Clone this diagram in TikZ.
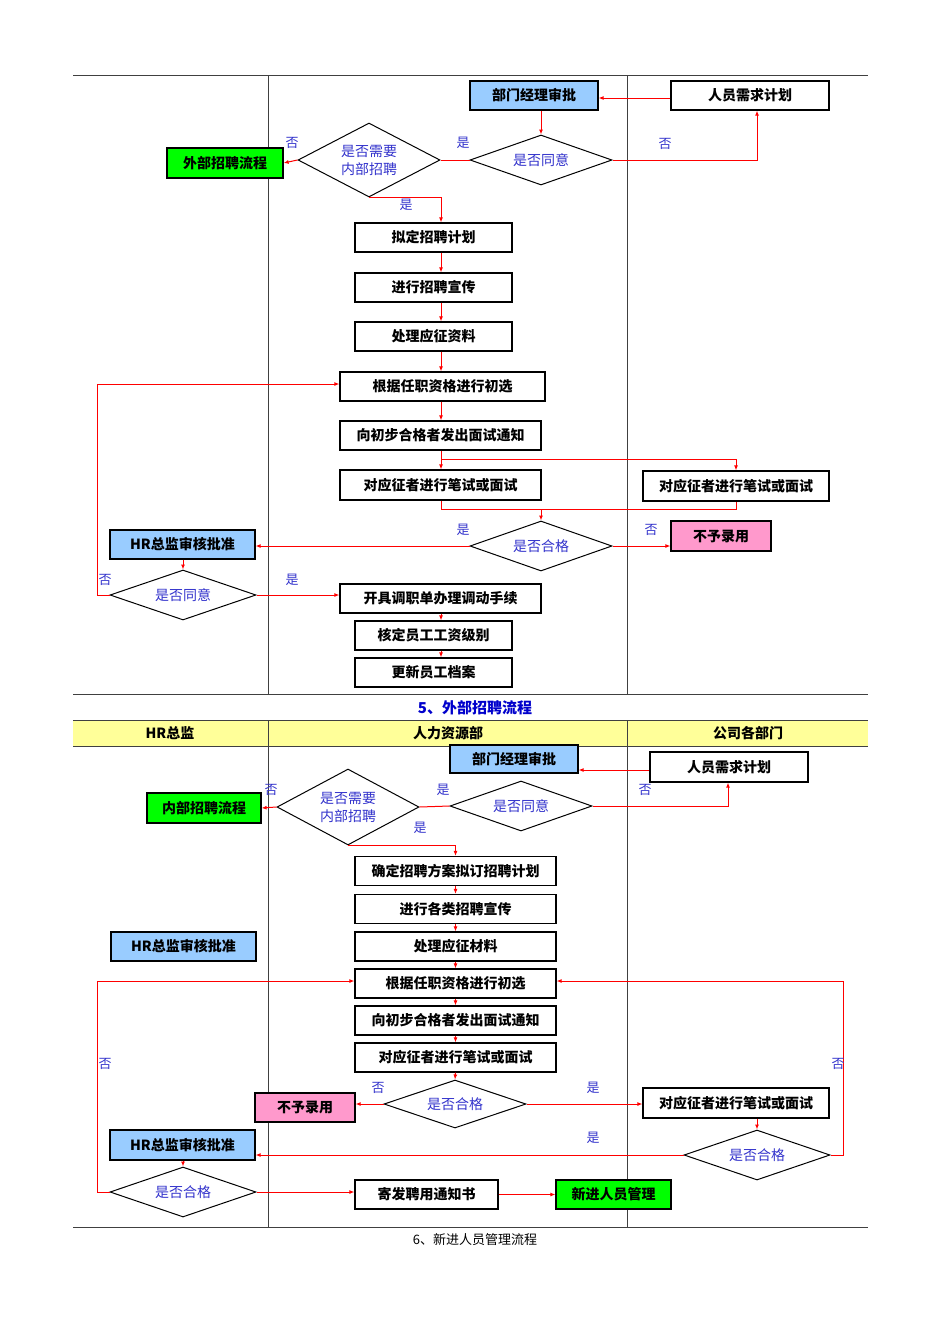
\documentclass[tikz,border=0pt]{standalone}
\usepackage{fontspec}
\setmainfont{Liberation Serif}
\newfontfamily\cjk{Noto Sans CJK SC}
\newfontfamily\cjks{Noto Sans CJK SC}
\usetikzlibrary{shapes.geometric,arrows.meta}
\definecolor{bfill}{HTML}{99CCFF}
\definecolor{gfill}{HTML}{00FF00}
\definecolor{pfill}{HTML}{FF99CC}
\definecolor{yfill}{HTML}{FFFF99}
\definecolor{lblue}{HTML}{3333CC}
\definecolor{tblue}{HTML}{0000CC}
\begin{document}
\begin{tikzpicture}[x=1pt,y=-1pt,
  box/.style={draw=black,line width=1.2pt,inner sep=0pt,font=\cjk\bfseries\fontsize{14}{16}\selectfont},
  dia/.style={draw=black,line width=1pt,diamond,inner sep=0pt},
  dtext/.style={text=lblue,font=\cjks\fontsize{14}{18}\selectfont,align=center},
  lab/.style={text=lblue,font=\cjks\fontsize{13}{15}\selectfont},
  arr/.style={draw=red,line width=1pt,-{Latex[length=5pt,width=4pt]}},
  ln/.style={draw=red,line width=1pt},
  grid/.style={draw=black!75,line width=0.8pt}]
\useasboundingbox (0,0) rectangle (950,1344);
\fill[white] (0,0) rectangle (950,1344);
% frame top section
\draw[grid] (73,75) -- (868,75);
\draw[grid] (268,75) -- (268,694);
\draw[grid] (627,75) -- (627,694);
\draw[grid] (73,694) -- (868,694);
\node[text=tblue,font=\cjk\bfseries\fontsize{15}{17}\selectfont] (t5) at (475,708) {5、外部招聘流程};
\fill[yfill] (73,720) rectangle (868,746);
\draw[grid] (73,720) -- (868,720);
\draw[grid] (73,746) -- (868,746);
\draw[grid] (268,720) -- (268,1227);
\draw[grid] (627,720) -- (627,1227);
\draw[grid] (73,1227) -- (868,1227);
\node[font=\cjk\bfseries\fontsize{14}{16}\selectfont] (h1) at (170,733) {HR总监};
\node[font=\cjk\bfseries\fontsize{14}{16}\selectfont] (h2) at (448,733) {人力资源部};
\node[font=\cjk\bfseries\fontsize{14}{16}\selectfont] (h3) at (748,733) {公司各部门};
\node[font=\cjks\fontsize{13}{15}\selectfont] (t6) at (475,1240) {6、新进人员管理流程};

% ---------- top section ----------
\node[box,fill=bfill,minimum width=128,minimum height=29] (bm1) at (534,95.5) {部门经理审批};
\node[box,minimum width=158,minimum height=29] (rq1) at (750,95.5) {人员需求计划};
\node[box,fill=gfill,minimum width=116,minimum height=30] (ext) at (225,163) {外部招聘流程};
\node[dia,minimum width=142,minimum height=74] (d1) at (369,160) {};
\node[dtext] at (d1) {是否需要\\内部招聘};
\node[dia,minimum width=142,minimum height=50] (d2) at (541,160) {};
\node[dtext] at (d2) {是否同意};
\node[box,minimum width=157,minimum height=29] (p1) at (433.5,237.5) {拟定招聘计划};
\node[box,minimum width=157,minimum height=29] (p2) at (433.5,287.5) {进行招聘宣传};
\node[box,minimum width=157,minimum height=29] (p3) at (433.5,336.5) {处理应征资料};
\node[box,minimum width=205,minimum height=29] (p4) at (442.5,386.5) {根据任职资格进行初选};
\node[box,minimum width=201,minimum height=29] (p5) at (440.5,435.5) {向初步合格者发出面试通知};
\node[box,minimum width=201,minimum height=30] (p6) at (440.5,485) {对应征者进行笔试或面试};
\node[box,minimum width=186,minimum height=30] (r6) at (736,486) {对应征者进行笔试或面试};
\node[dia,minimum width=142,minimum height=50] (d3) at (541,546) {};
\node[dtext] at (d3) {是否合格};
\node[box,fill=pfill,minimum width=100,minimum height=30] (no1) at (721,536) {不予录用};
\node[box,fill=bfill,minimum width=145,minimum height=29] (hr1) at (182.5,544.5) {HR总监审核批准};
\node[dia,minimum width=146,minimum height=50] (d4) at (183,595) {};
\node[dtext] at (d4) {是否同意};
\node[box,minimum width=201,minimum height=29] (p7) at (440.5,598.5) {开具调职单办理调动手续};
\node[box,minimum width=157,minimum height=29] (p8) at (433.5,635.5) {核定员工工资级别};
\node[box,minimum width=157,minimum height=29] (p9) at (433.5,672.5) {更新员工档案};

\coordinate (xa) at (441,0);
\coordinate (ra) at (757,0);
\draw[arr] (rq1.west |- 0,98) -- (bm1.east |- 0,98);
\draw[arr] (bm1.south -| d2) -- (d2.north);
\draw[ln] (d2.west) -- (d1.east);
\draw[arr] (d1.west) -- (ext.east);
\draw[arr] (d2.east) -- (ra |- d2) -- (ra |- rq1.south);
\draw[arr] (d1.south) -- (xa |- d1.south) -- (xa |- p1.north);
\draw[arr] (xa |- p1.south) -- (xa |- p2.north);
\draw[arr] (xa |- p2.south) -- (xa |- p3.north);
\draw[arr] (xa |- p3.south) -- (xa |- p4.north);
\draw[arr] (xa |- p4.south) -- (xa |- p5.north);
\draw[arr] (xa |- p5.south) -- (xa |- p6.north);
\coordinate (s1) at (441,459);
\draw[arr] (s1) -- (r6.north |- s1) -- (r6.north);
\coordinate (s2) at (441,509);
\draw[ln] (xa |- p6.south) -- (s2) -- (r6.south |- s2) -- (r6.south);
\draw[arr] (d3.north |- s2) -- (d3.north);
\draw[arr] (d3.west) -- (hr1.east |- d3);
\draw[arr] (d3.east) -- (no1.west |- d3);
\draw[arr] (hr1.south -| d4) -- (d4.north);
\coordinate (lx) at (97,0);
\draw[arr] (d4.west) -- (lx |- d4) -- (lx |- 0,384) -- (p4.west |- 0,384);
\draw[arr] (d4.east) -- (p7.west |- d4);
\draw[arr] (xa |- p7.south) -- (xa |- p8.north);
\draw[arr] (xa |- p8.south) -- (xa |- p9.north);
\node[lab] (l1) at (292,143) {否};
\node[lab] (l2) at (463,143) {是};
\node[lab] (l3) at (665,144) {否};
\node[lab] (l4) at (406,205) {是};
\node[lab] (l5) at (463,530) {是};
\node[lab] (l6) at (651,530) {否};
\node[lab] (l7) at (105,580) {否};
\node[lab] (l8) at (292,580) {是};

% ---------- bottom section ----------
\node[box,fill=bfill,minimum width=128,minimum height=28] (bm2) at (514,759) {部门经理审批};
\node[box,minimum width=158,minimum height=30] (rq2) at (729,767) {人员需求计划};
\node[box,fill=gfill,minimum width=114,minimum height=30] (int) at (204,808) {内部招聘流程};
\node[dia,minimum width=142,minimum height=76] (d5) at (348,807) {};
\node[dtext] at (d5) {是否需要\\内部招聘};
\node[dia,minimum width=142,minimum height=50] (d6) at (521,806) {};
\node[dtext] at (d6) {是否同意};
\node[box,minimum width=201,minimum height=29] (q1) at (455.5,871) {确定招聘方案拟订招聘计划};
\node[box,minimum width=201,minimum height=29] (q2) at (455.5,909) {进行各类招聘宣传};
\node[box,minimum width=201,minimum height=29] (q3) at (455.5,946.5) {处理应征材料};
\node[box,fill=bfill,minimum width=145,minimum height=29] (hr2) at (183.5,946.5) {HR总监审核批准};
\node[box,minimum width=201,minimum height=29] (q4) at (455.5,983.5) {根据任职资格进行初选};
\node[box,minimum width=201,minimum height=29] (q5) at (455.5,1020.5) {向初步合格者发出面试通知};
\node[box,minimum width=201,minimum height=29] (q6) at (455.5,1057.5) {对应征者进行笔试或面试};
\node[dia,minimum width=142,minimum height=48] (d7) at (455,1104) {};
\node[dtext] at (d7) {是否合格};
\node[box,fill=pfill,minimum width=100,minimum height=29] (no2) at (305,1107.5) {不予录用};
\node[box,minimum width=186,minimum height=30] (r7) at (736,1103) {对应征者进行笔试或面试};
\node[dia,minimum width=146,minimum height=50] (d8) at (757,1155) {};
\node[dtext] at (d8) {是否合格};
\node[box,fill=bfill,minimum width=145,minimum height=30] (hr3) at (182.5,1145) {HR总监审核批准};
\node[dia,minimum width=146,minimum height=50] (d9) at (183,1192) {};
\node[dtext] at (d9) {是否合格};
\node[box,minimum width=143,minimum height=29] (q7) at (426.5,1194.5) {寄发聘用通知书};
\node[box,fill=gfill,minimum width=115,minimum height=29] (new) at (613.5,1194.5) {新进人员管理};

\coordinate (rb) at (728,0);
\coordinate (rr) at (843,0);
\draw[arr] (rq2.west |- 0,770) -- (bm2.east |- 0,770);
\draw[arr] (d6.east) -- (rb |- d6) -- (rb |- rq2.south);
\draw[ln] (d6.west) -- (d5.east);
\draw[arr] (d5.west) -- (int.east);
\draw[arr] (d5.south) -- (q1.north |- d5.south) -- (q1.north);
\draw[arr] (q1) ++(0,14.5) -- (q2.north);
\draw[arr] (q2.south) -- (q3.north);
\draw[arr] (q3.south) -- (q4.north);
\draw[arr] (q4.south) -- (q5.north);
\draw[arr] (q5.south) -- (q6.north);
\draw[arr] (q6.south) -- (d7.north);
\draw[arr] (d7.west) -- (no2.east |- d7);
\draw[arr] (d7.east) -- (r7.west |- d7);
\draw[arr] (r7.south -| d8) -- (d8.north);
\draw[arr] (d8.west) -- (hr3.east |- d8);
\draw[arr] (d8.east) -- (rr |- d8) -- (rr |- 0,981) -- (q4.east |- 0,981);
\draw[arr] (hr3.south -| d9) -- (d9.north);
\draw[arr] (d9.west) -- (lx |- d9) -- (lx |- 0,981) -- (q4.west |- 0,981);
\draw[arr] (d9.east) -- (q7.west |- d9);
\draw[arr] (q7.east) -- (new.west);
\node[lab] (m1) at (271,790) {否};
\node[lab] (m2) at (443,790) {是};
\node[lab] (m3) at (645,790) {否};
\node[lab] (m4) at (420,828) {是};
\node[lab] (m5) at (378,1088) {否};
\node[lab] (m6) at (593,1088) {是};
\node[lab] (m7) at (593,1138) {是};
\node[lab] (m8) at (838,1064) {否};
\node[lab] (m9) at (105,1064) {否};
\end{tikzpicture}
\end{document}
